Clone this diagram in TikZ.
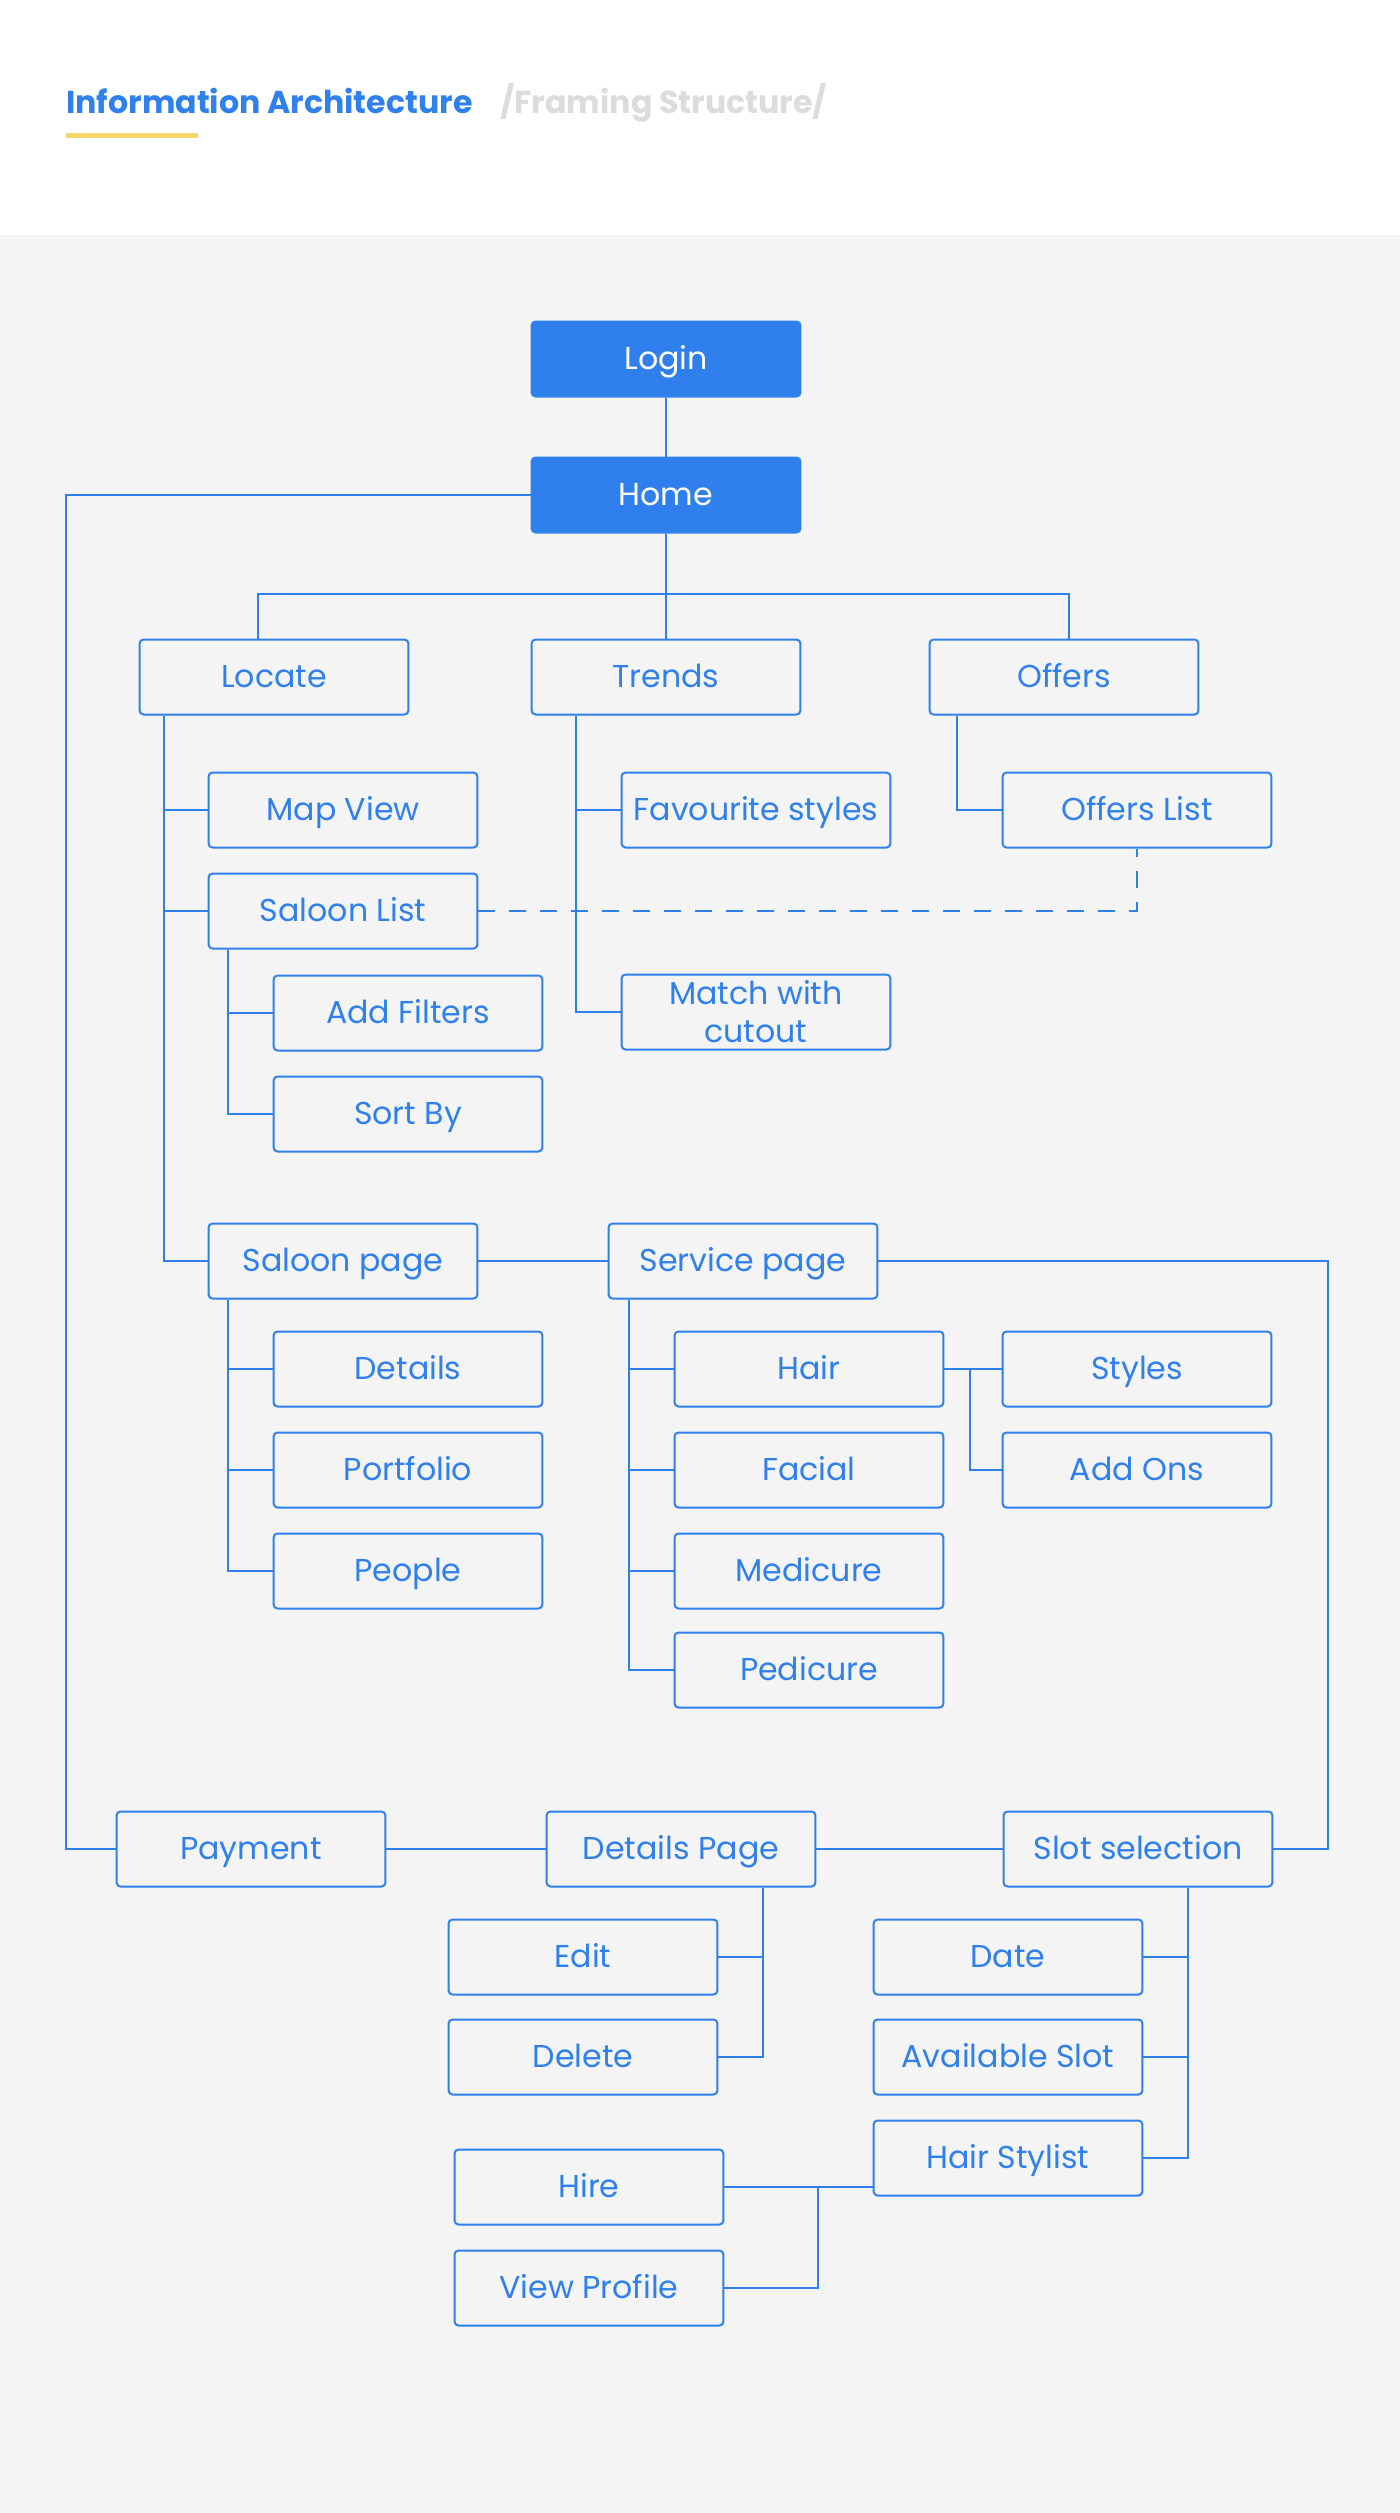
\documentclass[tikz,border=0pt]{standalone}
\usepackage{fontspec}
\setmainfont{Poppins}
\usetikzlibrary{calc}
\definecolor{iablue}{HTML}{2F80ED}
\definecolor{iagray}{HTML}{F4F4F4}
\definecolor{iayellow}{HTML}{F5D76E}
\definecolor{iasub}{HTML}{DCDCDC}
\tikzset{
  iabox/.style={draw=iablue, line width=0.04cm, rounded corners=0.08cm,
    minimum width=5.38cm, minimum height=1.5cm, inner sep=0pt,
    text=iablue, font=\fontsize{18}{21.6}\selectfont,
    text height=12.6pt, text depth=0.9pt},
  iamain/.style={iabox, fill=iablue, text=white},
  iaconn/.style={draw=iablue, line width=0.04cm},
  iadash/.style={iaconn, dash pattern=on 0.34cm off 0.28cm},
}
\begin{document}
\begin{tikzpicture}[x=0.02cm,y=-0.02cm]
        \useasboundingbox (0,0) rectangle (1400,2513);
        \fill[white] (0,0) rectangle (1400,235);
        \fill[iagray] (0,235) rectangle (1400,2513);
        \node[anchor=base west, inner sep=0pt, text=iablue, font=\fontsize{18}{21.6}\selectfont\bfseries] (title) at (66,113) {Information Architecture};
        \node[anchor=base west, inner sep=0pt, text=iasub, font=\fontsize{18}{21.6}\selectfont\bfseries] (subtitle) at (500,113) {/Framing Structure/};
        \fill[iayellow] (66,133) rectangle (198,138);

        \node[iamain] (login) at (666,359) {Login};
        \node[iamain] (home) at (666,495) {Home};
        \node[iabox] (locate) at (274,677) {Locate};
        \node[iabox] (trends) at (666,677) {Trends};
        \node[iabox] (offers) at (1064,677) {Offers};
        \node[iabox] (mapview) at (343,810) {Map View};
        \node[iabox] (saloonlist) at (343,911) {Saloon List};
        \node[iabox] (addfilters) at (408,1013) {Add Filters};
        \node[iabox] (sortby) at (408,1114) {Sort By};
        \node[iabox] (saloonpage) at (343,1261) {Saloon page};
        \node[iabox] (details) at (408,1369) {Details};
        \node[iabox] (portfolio) at (408,1470) {Portfolio};
        \node[iabox] (people) at (408,1571) {People};
        \node[iabox] (favstyles) at (756,810) {Favourite styles};
        \node[iabox, align=center, text height={}, text depth={}] (cutout) at (756,1012) {Match with\\cutout};
        \node[iabox] (offerslist) at (1137,810) {Offers List};
        \node[iabox] (servicepage) at (743,1261) {Service page};
        \node[iabox] (hair) at (809,1369) {Hair};
        \node[iabox] (facial) at (809,1470) {Facial};
        \node[iabox] (medicure) at (809,1571) {Medicure};
        \node[iabox] (pedicure) at (809,1670) {Pedicure};
        \node[iabox] (styles) at (1137,1369) {Styles};
        \node[iabox] (addons) at (1137,1470) {Add Ons};
        \node[iabox] (payment) at (251,1849) {Payment};
        \node[iabox] (detailspage) at (681,1849) {Details Page};
        \node[iabox] (slot) at (1138,1849) {Slot selection};
        \node[iabox] (edit) at (583,1957) {Edit};
        \node[iabox] (delete) at (583,2057) {Delete};
        \node[iabox] (date) at (1008,1957) {Date};
        \node[iabox] (available) at (1008,2057) {Available Slot};
        \node[iabox] (stylist) at (1008,2158) {Hair Stylist};
        \node[iabox] (hire) at (589,2187) {Hire};
        \node[iabox] (viewprofile) at (589,2288) {View Profile};

        \coordinate (lftrail) at (66,0);
        \coordinate (rgtrail) at (1328,0);
        \coordinate (bus) at (0,594);
        \coordinate (locspine) at ([xshift=0.51cm]locate.south west);
        \coordinate (listspine) at ([xshift=0.41cm]saloonlist.south west);
        \coordinate (pagespine) at ([xshift=0.41cm]saloonpage.south west);
        \coordinate (trendspine) at ([xshift=0.91cm]trends.south west);
        \coordinate (offerspine) at ([xshift=0.57cm]offers.south west);
        \coordinate (servspine) at ([xshift=0.43cm]servicepage.south west);
        \coordinate (dpspine) at ([xshift=-1.07cm]detailspage.south east);
        \coordinate (slotspine) at ([xshift=-1.72cm]slot.south east);

        \draw[iaconn] (login) -- (home);
        \draw[iaconn] (home.west) -- (home.west -| lftrail) |- (payment.west);
        \draw[iaconn] (home) -- (home |- bus);
        \draw[iaconn] ([xshift=-0.32cm]locate.north) -- ([xshift=-0.32cm]locate.north |- bus) -- ([xshift=0.1cm]offers.north |- bus) -- ([xshift=0.1cm]offers.north);
        \draw[iaconn] (trends) -- (trends |- bus);

        \draw[iaconn] (locspine) |- (saloonpage.west);
        \foreach \n in {mapview,saloonlist}
            \draw[iaconn] (\n.west) -- (\n.west -| locspine);
        \draw[iaconn] (listspine) |- (sortby.west);
        \draw[iaconn] (addfilters.west) -- (addfilters.west -| listspine);
        \draw[iaconn] (pagespine) |- (people.west);
        \foreach \n in {details,portfolio}
            \draw[iaconn] (\n.west) -- (\n.west -| pagespine);
        \draw[iaconn] (trendspine) |- (cutout.west);
        \draw[iaconn] (favstyles.west) -- (favstyles.west -| trendspine);
        \draw[iaconn] (offerspine) |- (offerslist.west);
        \draw[iadash] (saloonlist.east) -| (offerslist.south);

        \draw[iaconn] (saloonpage) -- (servicepage);
        \draw[iaconn] (servicepage.east) -- (servicepage.east -| rgtrail) |- (slot.east);
        \draw[iaconn] (servspine) |- (pedicure.west);
        \foreach \n in {hair,facial,medicure}
            \draw[iaconn] (\n.west) -- (\n.west -| servspine);
        \draw[iaconn] (hair) -- (styles);
        \draw[iaconn] ([xshift=0.51cm]hair.east) |- (addons.west);

        \draw[iaconn] (payment) -- (detailspage);
        \draw[iaconn] (detailspage) -- (slot);
        \draw[iaconn] (dpspine) |- (delete.east);
        \draw[iaconn] (edit.east) -- (edit.east -| dpspine);
        \draw[iaconn] (slotspine) |- (stylist.east);
        \foreach \n in {date,available}
            \draw[iaconn] (\n.east) -- (\n.east -| slotspine);
        \draw[iaconn] (hire.east) -- (hire.east -| stylist.west);
        \draw[iaconn] ([xshift=1.87cm]hire.east) |- (viewprofile.east);
    \end{tikzpicture}
\end{document}
